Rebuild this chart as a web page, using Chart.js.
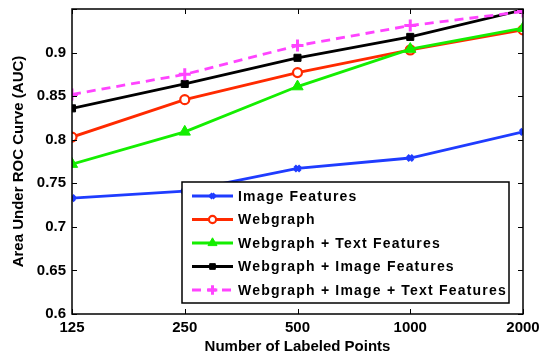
<!DOCTYPE html>
<html>
<head>
<meta charset="utf-8">
<script src="https://cdn.jsdelivr.net/npm/chart.js@4"></script>
<style>
  html, body { margin: 0; padding: 0; background: #fff; }
  #wrap { width: 542px; height: 358px; }
</style>
</head>
<body>
<div id="wrap"><canvas id="auc"></canvas></div>
<script>
// labeled points (log axis) and AUC per method
const labeledPoints = [125, 250, 500, 1000, 2000]
const yTicks = [0.6, 0.65, 0.7, 0.75, 0.8, 0.85, 0.9, 0.95]

const imageFeatures = [0.733, 0.741, 0.767, 0.779, 0.809]
const webgraph = [0.803, 0.846, 0.877, 0.903, 0.926]
const webgraphText = [0.772, 0.809, 0.861, 0.904, 0.928]
const webgraphImage = [0.836, 0.864, 0.894, 0.918, 0.949]
const webgraphImageText = [0.852, 0.875, 0.908, 0.931, 0.947]

const seriesNames = [
  'Image Features',
  'Webgraph',
  'Webgraph + Text Features',
  'Webgraph + Image Features',
  'Webgraph + Image + Text Features'
]

const FONT = '"Liberation Sans", Arial, sans-serif'

function pts(values) {
  return labeledPoints.map((x, i) => ({ x: x, y: values[i] }))
}

const datasets = [
  {
    label: seriesNames[0],
    data: pts(imageFeatures),
    borderColor: '#1f3cff',
    backgroundColor: '#1f3cff',
    pointStyle: 'crossRot',
    pointRadius: 4,
    pointBorderWidth: 3.5
  },
  {
    label: seriesNames[1],
    data: pts(webgraph),
    borderColor: '#ff2a00',
    backgroundColor: '#ffffff',
    pointStyle: 'circle',
    pointRadius: 4.5,
    pointBorderWidth: 2.2
  },
  {
    label: seriesNames[2],
    data: pts(webgraphText),
    borderColor: '#14ee00',
    backgroundColor: '#14ee00',
    pointStyle: 'triangle',
    pointRadius: 6.5,
    pointBorderWidth: 1
  },
  {
    label: seriesNames[3],
    data: pts(webgraphImage),
    borderColor: '#000000',
    backgroundColor: '#000000',
    pointStyle: 'rect',
    pointRadius: 5,
    pointBorderWidth: 1
  },
  {
    label: seriesNames[4],
    data: pts(webgraphImageText),
    borderColor: '#ff44ff',
    backgroundColor: '#ff44ff',
    borderDash: [9, 6],
    pointStyle: 'cross',
    pointRadius: 6,
    pointBorderWidth: 3
  }
]
// later series sit on top, as in the original plot
datasets.forEach((d, i) => {
  d.borderWidth = 2.8
  d.tension = 0
  d.fill = false
  d.order = datasets.length - i
})

// MATLAB style frame: box with inward ticks on all four sides
const framePlugin = {
  id: 'frame',
  afterDraw(chart) {
    const ctx = chart.ctx
    const a = chart.chartArea
    const xs = chart.scales.x
    const ys = chart.scales.y
    const len = 5
    ctx.save()
    ctx.strokeStyle = '#000'
    ctx.lineWidth = 1
    labeledPoints.forEach(v => {
      const px = Math.round(xs.getPixelForValue(v)) + 0.5
      ctx.beginPath()
      ctx.moveTo(px, a.bottom); ctx.lineTo(px, a.bottom - len)
      ctx.moveTo(px, a.top); ctx.lineTo(px, a.top + len)
      ctx.stroke()
    })
    yTicks.forEach(v => {
      const py = Math.round(ys.getPixelForValue(v)) + 0.5
      ctx.beginPath()
      ctx.moveTo(a.left, py); ctx.lineTo(a.left + len, py)
      ctx.moveTo(a.right, py); ctx.lineTo(a.right - len, py)
      ctx.stroke()
    })
    ctx.lineWidth = 1.5
    ctx.strokeRect(a.left, a.top, a.right - a.left, a.bottom - a.top)
    ctx.restore()
  }
}

// legend box drawn inside the plot area, lower right
const boxLegendPlugin = {
  id: 'boxLegend',
  afterDraw(chart) {
    const ctx = chart.ctx
    const bx = 182, by = 182, bw = 327, bh = 121
    const rowH = 23.5
    ctx.save()
    ctx.fillStyle = '#fff'
    ctx.fillRect(bx, by, bw, bh)
    ctx.strokeStyle = '#000'
    ctx.lineWidth = 1.5
    ctx.strokeRect(bx, by, bw, bh)
    ctx.font = 'bold 14px ' + FONT
    ctx.textBaseline = 'middle'
    ctx.textAlign = 'left'
    if ('letterSpacing' in ctx) ctx.letterSpacing = '1.2px'
    chart.data.datasets.forEach((ds, i) => {
      const cy = by + 14 + i * rowH
      ctx.strokeStyle = ds.borderColor
      ctx.lineWidth = ds.borderWidth
      ctx.setLineDash(ds.borderDash || [])
      ctx.beginPath()
      ctx.moveTo(bx + 10, cy)
      ctx.lineTo(bx + 51, cy)
      ctx.stroke()
      ctx.setLineDash([])
      ctx.lineWidth = ds.pointBorderWidth
      ctx.fillStyle = ds.backgroundColor
      Chart.helpers.drawPoint(ctx, {
        pointStyle: ds.pointStyle,
        radius: ds.pointRadius * 0.8,
        rotation: 0,
        borderWidth: ds.pointBorderWidth
      }, bx + 30.5, cy)
      ctx.fillStyle = '#000'
      ctx.fillText(ds.label, bx + 56, cy + 1)
    })
    ctx.restore()
  }
}

new Chart(document.getElementById('auc'), {
  type: 'line',
  data: { datasets: datasets },
  plugins: [framePlugin, boxLegendPlugin],
  options: {
    responsive: true,
    maintainAspectRatio: false,
    animation: false,
    layout: { padding: { top: 8, right: 19, left: 0, bottom: 0 } },
    plugins: {
      legend: { display: false },
      tooltip: { enabled: false }
    },
    scales: {
      x: {
        type: 'logarithmic',
        min: 125,
        max: 2000,
        afterBuildTicks(scale) {
          scale.ticks = labeledPoints.map(v => ({ value: v }))
        },
        afterFit(scale) {
          scale.height = 44
          scale.paddingLeft = 0
          scale.paddingRight = 0
        },
        ticks: {
          autoSkip: false,
          maxRotation: 0,
          padding: 5,
          color: '#000',
          font: { family: FONT, size: 15, weight: 'bold' },
          callback: v => String(v)
        },
        grid: { display: false, drawTicks: false, tickLength: 0 },
        border: { display: false },
        title: {
          display: true,
          text: 'Number of Labeled Points',
          color: '#000',
          font: { family: FONT, size: 15, weight: 'bold' },
          padding: { top: 0, bottom: 2 }
        }
      },
      y: {
        type: 'linear',
        min: 0.6,
        max: 0.95,
        afterBuildTicks(scale) {
          scale.ticks = yTicks.map(v => ({ value: v }))
        },
        afterFit(scale) {
          scale.width = 72
          scale.paddingTop = 0
          scale.paddingBottom = 0
        },
        ticks: {
          padding: 6,
          color: '#000',
          font: { family: FONT, size: 15, weight: 'bold' },
          callback: v => (Math.abs(v - 0.95) < 1e-6 ? '' : String(+v.toFixed(2)))
        },
        grid: { display: false, drawTicks: false, tickLength: 0 },
        border: { display: false },
        title: {
          display: true,
          text: 'Area Under ROC Curve (AUC)',
          color: '#000',
          font: { family: FONT, size: 15, weight: 'bold' },
          padding: { top: 10, bottom: 0 }
        }
      }
    }
  }
})
</script>
</body>
</html>
